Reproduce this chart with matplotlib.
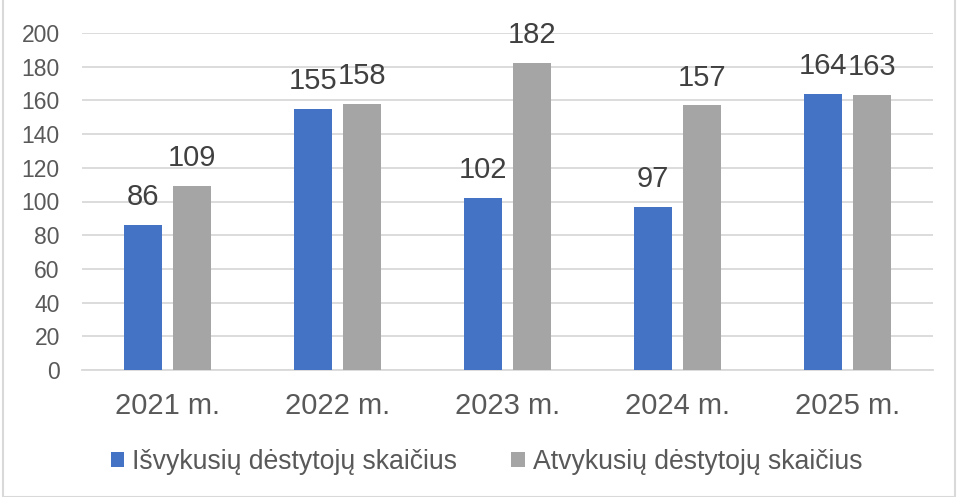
import matplotlib.pyplot as plt
import numpy as np

plt.rcParams['font.family'] = ['Liberation Sans', 'DejaVu Sans']

# Chart data
years = ['2021 m.', '2022 m.', '2023 m.', '2024 m.', '2025 m.']
isvykusiu = [86, 155, 102, 97, 164]
atvykusiu = [109, 158, 182, 157, 163]
series_names = ['Išvykusių dėstytojų skaičius', 'Atvykusių dėstytojų skaičius']

blue = '#4472C4'
gray = '#A5A5A5'
text_col = '#595959'

fig = plt.figure(figsize=(9.63, 4.97), dpi=100)
ax = fig.add_axes([82 / 963, 1 - 370 / 497, (933 - 82) / 963, 337 / 497])

x = np.arange(len(years))
w = 0.223
off = 0.144
b1 = ax.bar(x - off, isvykusiu, w, color=blue, label=series_names[0], zorder=3)
b2 = ax.bar(x + off, atvykusiu, w, color=gray, label=series_names[1], zorder=3)

for bars in (b1, b2):
    ax.bar_label(bars, padding=10, fontsize=21, color='#404040')

ax.set_xlim(-0.5, len(years) - 0.5)
ax.set_ylim(0, 200)
ax.set_yticks(range(0, 201, 20))
ax.set_xticks(x)
ax.set_xticklabels(years)
ax.tick_params(axis='y', length=0, labelsize=16.5, labelcolor=text_col, pad=16)
ax.tick_params(axis='x', length=0, labelsize=21, labelcolor=text_col, pad=16)
ax.grid(axis='y', color='#D9D9D9', linewidth=1.3, zorder=0)
for s in ['top', 'right', 'left']:
    ax.spines[s].set_visible(False)
ax.spines['bottom'].set_color('#D9D9D9')
ax.spines['bottom'].set_linewidth(1.3)

fig.legend(handles=[b1, b2], loc='center', bbox_to_anchor=(0.5 + 5 / 963, 1 - 462 / 497),
           ncol=2, frameon=False, fontsize=19.2, labelcolor=text_col,
           handlelength=0.5, handleheight=0.5, handletextpad=0.3,
           columnspacing=2.03)

# outer border like the chart frame
fig.patches.append(plt.Rectangle((3 / 963, 0), 952 / 963, 1.2, transform=fig.transFigure,
                                 fill=False, edgecolor='#D9D9D9', linewidth=1.5))

fig.savefig('out.png', dpi=100)
